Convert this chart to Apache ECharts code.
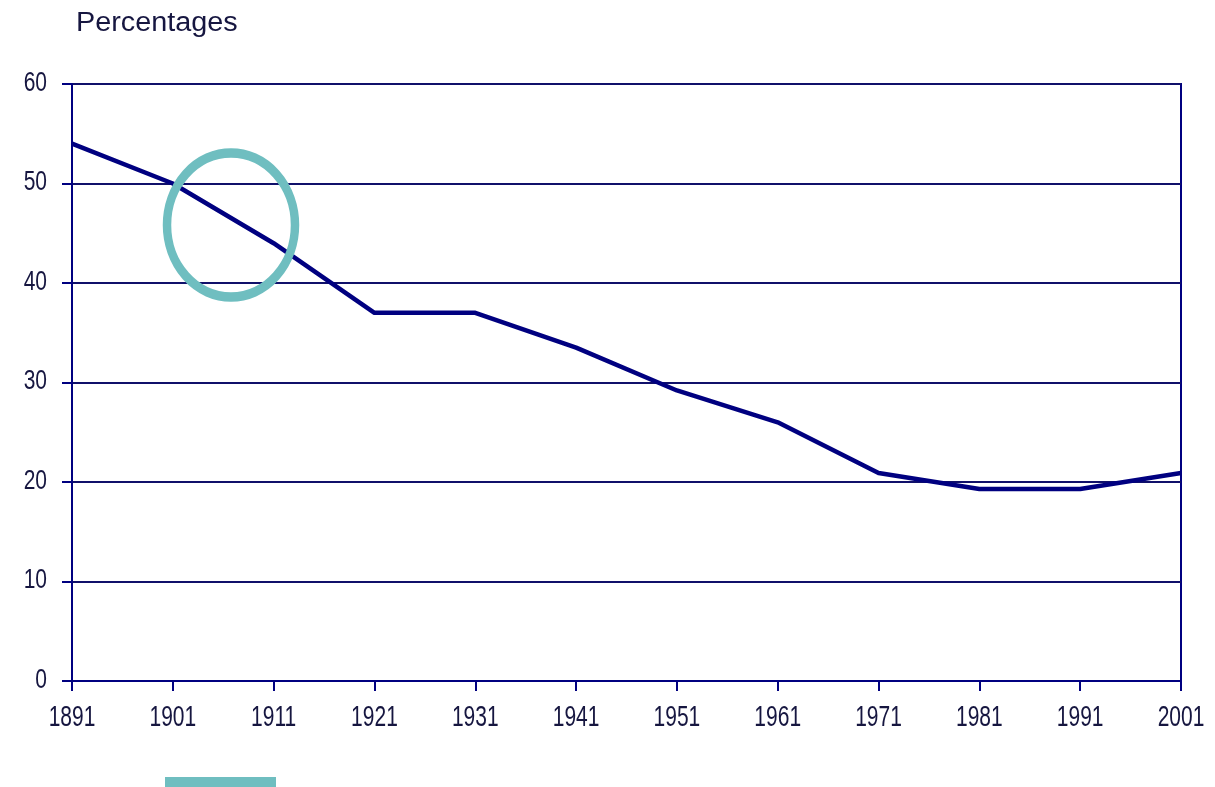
<!DOCTYPE html>
<html>
<head>
<meta charset="utf-8">
<style>
  html, body { margin: 0; padding: 0; background: #ffffff; }
  #chart { width: 1215px; height: 787px; }
</style>
<script src="https://cdn.jsdelivr.net/npm/echarts@6/dist/echarts.min.js"></script>
</head>
<body>
<div id="chart"></div>
<script>
// Census years and the share (percentages) for each
const years = ['1891', '1901', '1911', '1921', '1931', '1941', '1951', '1961', '1971', '1981', '1991', '2001'];
const shares = [54, 50, 44, 37, 37, 33.5, 29.2, 26, 20.9, 19.3, 19.3, 20.9];
const yTickValues = [0, 10, 20, 30, 40, 50, 60];
const yTitle = 'Percentages';

const navy = '#000080';
const textColor = '#161640';
const teal = '#6fbec0';

const chart = echarts.init(document.getElementById('chart'), null, { renderer: 'canvas' });

const option = {
  backgroundColor: '#ffffff',
  animation: false,
  grid: {
    left: 72, right: 34, top: 84, bottom: 106,
    show: true, borderColor: navy, borderWidth: 2, backgroundColor: 'transparent'
  },
  xAxis: {
    type: 'category',
    data: years,
    boundaryGap: false,
    axisLine: { show: true, lineStyle: { color: navy, width: 2 } },
    axisTick: { show: true, length: 10, lineStyle: { color: navy, width: 2 }, alignWithLabel: true },
    axisLabel: { show: false },
    splitLine: { show: false }
  },
  yAxis: {
    type: 'value',
    min: 0, max: 60, interval: 10,
    axisLine: { show: true, lineStyle: { color: navy, width: 2 } },
    axisTick: { show: true, length: 10, lineStyle: { color: navy, width: 2 } },
    axisLabel: { show: false },
    splitLine: { show: true, lineStyle: { color: '#10106a', width: 2 } }
  },
  series: [{
    type: 'line',
    data: shares,
    symbol: 'none',
    lineStyle: { color: navy, width: 4.5, join: 'round' },
    z: 3
  }]
};
chart.setOption(option);

// Tick labels are drawn as tall, narrow text placed at the axis pixel positions
const labelFont = '21px "Liberation Sans", Arial, sans-serif';
const graphics = [];
const baseY = chart.convertToPixel({ yAxisIndex: 0 }, 0);
years.forEach(function (yr) {
  const px = chart.convertToPixel({ xAxisIndex: 0 }, yr);
  graphics.push({
    type: 'text', x: px, y: baseY + 37, scaleY: 1.4, z: 10,
    style: { text: yr, font: labelFont, fill: textColor,
             align: 'center', verticalAlign: 'middle', textAlign: 'center', textVerticalAlign: 'middle' }
  });
});
yTickValues.forEach(function (v) {
  const py = chart.convertToPixel({ yAxisIndex: 0 }, v);
  graphics.push({
    type: 'text', x: 47, y: py - 1, scaleY: 1.3, z: 10,
    style: { text: String(v), font: labelFont, fill: textColor,
             align: 'right', verticalAlign: 'middle', textAlign: 'right', textVerticalAlign: 'middle' }
  });
});
// Axis title
graphics.push({
  type: 'text', x: 76, y: 23, scaleX: 1.2, scaleY: 1.15, z: 10,
  style: { text: yTitle, font: '24px "Liberation Sans", Arial, sans-serif', fill: textColor,
           align: 'left', verticalAlign: 'middle', textAlign: 'left', textVerticalAlign: 'middle' }
});
// Teal highlight ring around the 1901-1911 stretch and the underline beneath those years
graphics.push({
  type: 'circle', x: 231, y: 225, scaleY: 72 / 64, z: 20,
  shape: { cx: 0, cy: 0, r: 64 },
  style: { fill: 'none', stroke: teal, lineWidth: 8.5 }
});
graphics.push({
  type: 'rect', z: 20,
  shape: { x: 165, y: 777, width: 111, height: 10 },
  style: { fill: teal }
});
chart.setOption({ graphic: graphics });
</script>
</body>
</html>
